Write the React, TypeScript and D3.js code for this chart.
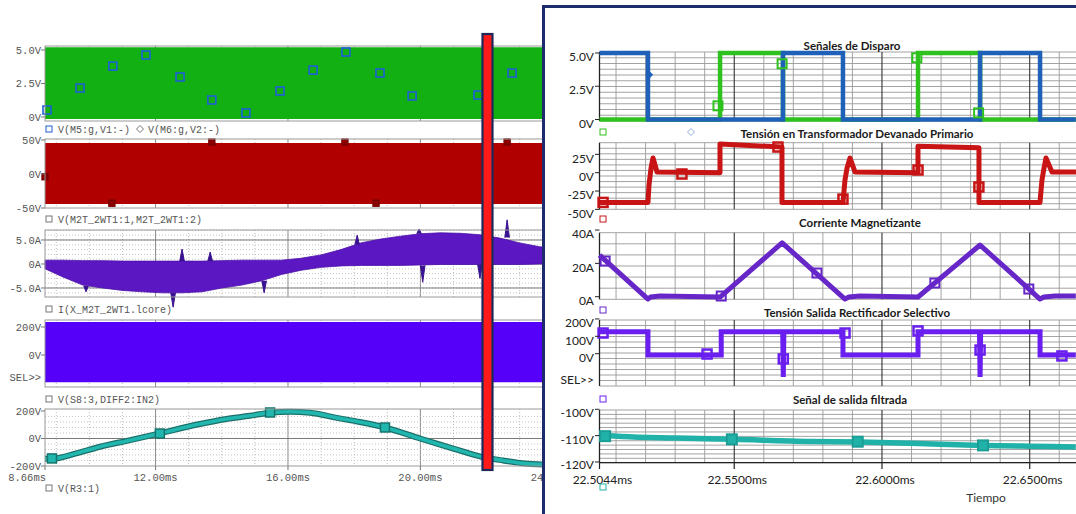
import React from "react";
import * as d3 from "d3";

// ================= LEFT: overview (PSpice) =================
const overviewTicks = [8.66, 12, 16, 20, 24];
const overviewTickLabels = ["8.66ms", "12.00ms", "16.00ms", "20.00ms", "24.00ms"];

// gate signals (dense square wave -> band) + markers
const gateBandT = [8.66, 24.5];
const gateBandLo = [-0.15, -0.15];
const gateBandHi = [5.2, 5.2];
const gateMarkT = [8.72, 9.72, 10.71, 11.71, 12.74, 13.7, 14.73, 15.76, 16.76, 17.75, 18.78, 19.75, 21.74, 22.77];
const gateMarkV = [0.52, 2.16, 3.8, 4.63, 2.99, 1.27, 0.3, 1.94, 3.5, 4.85, 3.28, 1.57, 1.64, 3.28];

// primary voltage band
const primBandT = [8.66, 24.5];
const primBandLo = [-44, -44];
const primBandHi = [45.6, 45.6];
const primMarkT = [8.66, 10.68, 13.7, 17.72, 18.66, 22.62];
const primMarkV = [-4, -43, 47, 47, -43, 47];

// magnetising current envelope
const coreT = [8.66, 9.2, 9.8, 10.4, 11.0, 11.6, 12.2, 12.8, 13.4, 14.0, 14.6, 15.2, 15.8, 16.4, 17.0, 17.6, 18.2, 18.8, 19.4, 20.0, 20.6, 21.2, 21.8, 22.4, 23.0, 23.6, 24.2];
const coreHi = [0.8, 0.8, 0.7, 0.7, 0.6, 0.6, 0.6, 0.6, 0.6, 0.7, 0.8, 0.8, 0.8, 1.2, 1.9, 3.0, 4.4, 5.2, 5.8, 6.3, 6.5, 6.4, 6.1, 5.4, 4.4, 3.6, 3.2];
const coreLo = [-1.0, -2.7, -4.4, -5.0, -5.5, -5.8, -6.0, -6.0, -5.8, -5.0, -4.4, -3.5, -2.2, -1.3, -0.7, -0.4, -0.3, -0.3, -0.3, -0.2, -0.1, -0.1, -0.1, -0.1, -0.1, 0, 0];
const coreSpikeT = [9.9, 12.53, 12.8, 13.65, 15.28, 18.09, 19.96, 20.07, 21.8, 22.62];
const coreSpikeBase = [-4.6, -6.0, 0.6, 0.6, -3.5, 4.0, 6.3, -0.3, -0.1, 5.5];
const coreSpikePeak = [-5.8, -9.0, 3.1, 2.5, -6.0, 6.0, 7.3, -3.8, -3.0, 9.2];

// selective rectifier output band
const selBandT = [8.66, 24.5];
const selBandLo = [-195, -195];
const selBandHi = [235, 235];

// output V(R3:1)
const outT = [8.66, 8.96, 9.57, 10.32, 11.23, 12.0, 13.34, 14.1, 14.85, 15.46, 16.06, 16.67, 17.48, 18.17, 18.93, 19.99, 20.6, 20.99, 21.89, 22.5, 23.01, 23.77, 24.2];
const outV = [-148, -145, -110, -60, -12, 30, 105, 140, 165, 188, 195, 188, 150, 120, 80, 0, -45, -73, -135, -160, -178, -190, -192];
const outMarkT = [8.87, 12.13, 15.46, 18.93];
const outMarkV = [-145, 36, 189, 80];

// ================= RIGHT: zoomed window =================
const zoomTicks = [22.5044, 22.55, 22.6, 22.65];
const zoomTickLabels = ["22.5044ms", "22.5500ms", "22.6000ms", "22.6500ms"];

// Señales de Disparo (step after)
const blueT = [22.5044, 22.5208, 22.5665, 22.5868, 22.6332, 22.6535, 22.6656];
const blueV = [5, 0, 5, 0, 5, 0, 0];
const greenT = [22.5044, 22.5452, 22.5665, 22.6122, 22.6332, 22.6656];
const greenV = [0, 5, 0, 5, 0, 0];
const greenMarkT = [22.5445, 22.5662, 22.6118, 22.6327];
const greenMarkV = [1.03, 4.19, 4.64, 0.5];
const blueMarkT = [22.5212];
const blueMarkV = [3.36];

// Tensión en Transformador Devanado Primario
const primT = [22.5044, 22.52081, 22.52115, 22.52183, 22.52251, 22.52386, 22.54518, 22.54518, 22.56616, 22.56616, 22.58681, 22.58748, 22.58816, 22.58918, 22.59087, 22.61219, 22.61219, 22.63283, 22.63283, 22.65348, 22.65415, 22.65483, 22.65551, 22.65754, 22.66566];
const primV = [-40.5, -40.5, -17, 6, 20, 1, 0, 39, 35, -40.5, -40.5, -10, 6, 20, 1, 0, 36, 34, -40.5, -40.5, -10, 6, 20, 1, 1];
const primZMarkT = [22.5056, 22.5323, 22.5648, 22.5868, 22.6122, 22.6328];
const primZMarkV = [-40.5, -1.8, 35, -36, 3.7, -19.5];

// Corriente Magnetizante
const magT = [22.5044, 22.52081, 22.5217, 22.5249, 22.5452, 22.5662, 22.58748, 22.5888, 22.5925, 22.6122, 22.6332, 22.65348, 22.6548, 22.6585, 22.6656];
const magV = [25, -1.4, -0.2, 0.4, -0.2, 32.3, -1.4, -0.2, 0.4, -0.2, 31, -1.4, -0.2, 0.4, 0.4];
const magMarkT = [22.5063, 22.5456, 22.5780, 22.6179, 22.6497];
const magMarkV = [21.4, 0.4, 14.2, 8.2, 4.6];

// Tensión Salida Rectificador Selectivo
const selT = [22.5044, 22.5208, 22.5208, 22.5456, 22.5456, 22.5664, 22.5666, 22.5668, 22.5868, 22.5868, 22.6122, 22.6122, 22.6330, 22.6332, 22.6334, 22.6535, 22.6535, 22.6656];
const selV = [127, 127, -7, -7, 127, 127, -134, 127, 127, -7, -7, 127, 127, -134, 127, 127, -7, -7];
const selMarkT = [22.5056, 22.5408, 22.5666, 22.5875, 22.6122, 22.6332, 22.6609];
const selMarkV = [119, -2, -30, 119, 131, 21, -13];

// Señal de salida filtrada
const filtT = [22.5044, 22.5120, 22.5300, 22.5492, 22.5756, 22.5925, 22.6100, 22.6342, 22.6500, 22.6656];
const filtV = [-109.8, -110.3, -110.9, -111.4, -112.2, -112.4, -112.9, -113.7, -114.0, -114.3];
const filtMarkT = [22.5063, 22.5492, 22.5918, 22.6342];
const filtMarkV = [-110.2, -111.4, -112.3, -113.7];

const pts = (t: number[], v: number[]) => t.map((d, i) => [d, v[i]] as [number, number]);

const FL = "'Liberation Mono', 'DejaVu Sans Mono', monospace";
const FR = "Lato, 'Open Sans', sans-serif";

export default function App() {
  const xL = d3.scaleLinear().domain([8.66, 24]).range([45, 552.8]);
  const xR = d3.scaleLinear().domain([22.5044, 22.6656]).range([599.5, 1075.8]);

  // left y scales
  const yL1 = d3.scaleLinear().domain([-0.3, 5.3]).range([121, 46]);
  const yL2 = d3.scaleLinear().domain([-50, 51.5]).range([208, 139]);
  const yL3 = d3.scaleLinear().domain([-6.875, 7.083]).range([297, 230]);
  const yL4 = d3.scaleLinear().domain([-228.6, 250]).range([387, 320]);
  const yL5 = d3.scaleLinear().domain([-200, 214.5]).range([466, 409]);

  // right y scales
  const yR1 = d3.scaleLinear().domain([-0.113, 5.075]).range([121, 52]);
  const yR2 = d3.scaleLinear().domain([-49.9, 40.9]).range([209.3, 142.7]);
  const yR3 = d3.scaleLinear().domain([-1.56, 38.4]).range([299.3, 232.7]);
  const yR4 = d3.scaleLinear().domain([-186, 194]).range([386, 320]);
  const yR5 = d3.scaleLinear().domain([-120.27, -100.27]).range([462.7, 410]);

  const bandPath = (t: number[], lo: number[], hi: number[], y: d3.ScaleLinear<number, number>) =>
    d3.area<number>().x((_, i) => xL(t[i])).y0((_, i) => y(lo[i])).y1((_, i) => y(hi[i]))(t) || "";

  const lineL = (t: number[], v: number[], y: d3.ScaleLinear<number, number>, curve = d3.curveLinear) =>
    d3.line<[number, number]>().x((d) => xL(d[0])).y((d) => y(d[1])).curve(curve)(pts(t, v)) || "";
  const lineR = (t: number[], v: number[], y: d3.ScaleLinear<number, number>, curve = d3.curveLinear) =>
    d3.line<[number, number]>().x((d) => xR(d[0])).y((d) => y(d[1])).curve(curve)(pts(t, v)) || "";

  const leftFrames = [yL1, yL2, yL3, yL4, yL5];

  const leftGrid = (y: d3.ScaleLinear<number, number>, minor: number[], major: number[]) => {
    const [b, t] = y.range();
    return (
      <g>
        {d3.range(9, 24.5, 1).map((m) => (
          <line key={"v" + m} x1={xL(m)} x2={xL(m)} y1={t} y2={b} stroke={[12, 16, 20, 24].includes(m) ? "#8a8a8a" : "#bdbdbd"} strokeWidth={1} strokeDasharray={[12, 16, 20, 24].includes(m) ? undefined : "1,2"} />
        ))}
        {minor.map((v) => (
          <line key={"h" + v} x1={45} x2={560} y1={y(v)} y2={y(v)} stroke="#b5b5b5" strokeWidth={0.8} strokeDasharray="1,2" />
        ))}
        {major.map((v) => (
          <line key={"H" + v} x1={45} x2={560} y1={y(v)} y2={y(v)} stroke="#7a7a7a" strokeWidth={1} />
        ))}
      </g>
    );
  };

  const leftYLabels = (y: d3.ScaleLinear<number, number>, vals: number[], labels: string[]) =>
    vals.map((v, i) => (
      <g key={i}>
        <line x1={41} x2={45} y1={y(v)} y2={y(v)} stroke="#777" />
        <text x={41} y={y(v)} dy="0.35em" textAnchor="end" fontFamily={FL} fontSize={10.5} fill="#555">{labels[i]}</text>
      </g>
    ));

  const leftLegend = (yy: number, label: string, color: string) => (
    <g>
      <rect x={46} y={yy - 3} width={6} height={6} fill="none" stroke={color} strokeWidth={1} />
      <text x={58} y={yy} dy="0.35em" fontFamily={FL} fontSize={10} fill="#555">{label}</text>
    </g>
  );

  // ---- right helpers ----
  const rightGrid = (y: d3.ScaleLinear<number, number>, n: number) => {
    const [b, t] = y.range();
    const rows = d3.range(0, n + 1).map((i) => t + ((b - t) * i) / n);
    return (
      <g>
        {rows.map((yy, i) => (
          <line key={"h" + i} x1={599.5} x2={1076} y1={yy} y2={yy} stroke="#8c8c8c" strokeWidth={0.8} />
        ))}
        {d3.range(22.51, 22.666, 0.01).map((m, i) => {
          const major = [22.55, 22.6, 22.65].some((q) => Math.abs(q - m) < 1e-6);
          return <line key={"v" + i} x1={xR(m)} x2={xR(m)} y1={t} y2={b} stroke={major ? "#333" : "#9a9a9a"} strokeWidth={major ? 1.1 : 0.9} />;
        })}
        <line x1={599.5} x2={599.5} y1={t} y2={b} stroke="#222" strokeWidth={1.3} />
      </g>
    );
  };

  const rightYLabels = (y: d3.ScaleLinear<number, number>, vals: number[], labels: string[]) =>
    vals.map((v, i) => (
      <g key={i}>
        <line x1={595} x2={599.5} y1={y(v)} y2={y(v)} stroke="#222" strokeWidth={1} />
        <text x={594} y={y(v) + 4} dy="0.35em" textAnchor="end" fontFamily={FR} fontSize={12} fill="#222">{labels[i]}</text>
      </g>
    ));

  const squares = (t: number[], v: number[], x: d3.ScaleLinear<number, number>, y: d3.ScaleLinear<number, number>, color: string, size: number, sw: number, fill = "none") =>
    t.map((d, i) => (
      <rect key={i} x={x(d) - size / 2} y={y(v[i]) - size / 2} width={size} height={size} fill={fill} stroke={color} strokeWidth={sw} />
    ));

  const title = (cx: number, yy: number, s: string) => (
    <text x={cx} y={yy} dy="0.35em" textAnchor="middle" fontFamily={FR} fontWeight={700} fontSize={11.5} fill="#1a1a1a">{s}</text>
  );

  return (
    <svg width={1076} height={514} style={{ position: "absolute", left: 0, top: 0, background: "#fff" }}>
      <rect x={0} y={0} width={1076} height={514} fill="#fff" />

      {/* ======== LEFT ======== */}
      {leftGrid(yL1, [], [0])}
      {leftGrid(yL2, [], [0])}
      {leftGrid(yL3, d3.range(-6, 7.01, 1), [-5, 0, 5])}
      {leftGrid(yL4, [], [0])}
      {leftGrid(yL5, d3.range(-160, 200, 40), [0])}

      {/* L1 gate band */}
      <path d={bandPath(gateBandT, gateBandLo, gateBandHi, yL1)} fill="#12b012" />
      {squares(gateMarkT, gateMarkV, xL, yL1, "#1f5fd6", 8, 1.6)}

      {/* L2 primary band */}
      <path d={bandPath(primBandT, primBandLo, primBandHi, yL2)} fill="#b00000" />
      {squares(primMarkT, primMarkV, xL, yL2, "#7a0000", 6, 1.4, "#8a0000")}

      {/* L3 magnetising current */}
      <path d={bandPath(coreT, coreLo, coreHi, yL3)} fill="#5a17c2" stroke="#4a10a8" strokeWidth={0.8} />
      {coreSpikeT.map((t, i) => (
        <path key={i} d={d3.line<[number, number]>().x((d) => xL(d[0])).y((d) => yL3(d[1]))([[t - 0.07, coreSpikeBase[i]], [t, coreSpikePeak[i]], [t + 0.07, coreSpikeBase[i]]]) || ""} fill="#3a1290" stroke="#3a1290" strokeWidth={1} />
      ))}

      {/* L4 selective rectifier band */}
      <path d={bandPath(selBandT, selBandLo, selBandHi, yL4)} fill="#5500f8" />

      {/* L5 output */}
      <path d={lineL(outT, outV, yL5, d3.curveMonotoneX)} fill="none" stroke="#1b6f6a" strokeWidth={6} />
      <path d={lineL(outT, outV, yL5, d3.curveMonotoneX)} fill="none" stroke="#22b7ae" strokeWidth={3.6} />
      {squares(outMarkT, outMarkV, xL, yL5, "#16736d", 9, 1.5, "#22b7ae")}

      {/* frames */}
      {leftFrames.map((y, i) => {
        const [b, t] = y.range();
        return <rect key={i} x={45} y={t} width={520} height={b - t} fill="none" stroke="#9a9a9a" strokeWidth={1} />;
      })}

      {leftYLabels(yL1, [5, 2.5, 0], ["5.0V", "2.5V", "0V"])}
      {leftYLabels(yL2, [50, 0, -50], ["50V", "0V", "-50V"])}
      {leftYLabels(yL3, [5, 0, -5], ["5.0A", "0A", "-5.0A"])}
      {leftYLabels(yL4, [200, 0], ["200V", "0V"])}
      <text x={41} y={377} dy="0.35em" textAnchor="end" fontFamily={FL} fontSize={10.5} fill="#555">SEL&gt;&gt;</text>
      {leftYLabels(yL5, [200, 0, -200], ["200V", "0V", "-200V"])}

      {overviewTicks.map((t, i) => (
        <g key={i}>
          <line x1={xL(t)} x2={xL(t)} y1={466} y2={470} stroke="#777" />
          <text x={i === 0 ? 46 : xL(t)} y={477} dy="0.35em" textAnchor={i === 0 ? "end" : "middle"} fontFamily={FL} fontSize={10.5} fill="#555">{overviewTickLabels[i]}</text>
        </g>
      ))}

      {/* legends */}
      <g>
        <rect x={46} y={126} width={6} height={6} fill="none" stroke="#1f5fd6" strokeWidth={1} />
        <text x={58} y={129} dy="0.35em" fontFamily={FL} fontSize={10} fill="#555">V(M5:g,V1:-)</text>
        <path d="M140,125.5 L143.5,129 L140,132.5 L136.5,129 Z" fill="none" stroke="#777" strokeWidth={1} />
        <text x={148} y={129} dy="0.35em" fontFamily={FL} fontSize={10} fill="#555">V(M6:g,V2:-)</text>
      </g>
      {leftLegend(219, "V(M2T_2WT1:1,M2T_2WT1:2)", "#777")}
      {leftLegend(309, "I(X_M2T_2WT1.lcore)", "#777")}
      {leftLegend(399, "V(S8:3,DIFF2:IN2)", "#777")}
      {leftLegend(488, "V(R3:1)", "#777")}

      {/* red cursor bar */}
      <rect x={482.5} y={34} width={10} height={436} fill="#ff1a1a" stroke="#1c2a5a" strokeWidth={2.2} />

      {/* ======== RIGHT ======== */}
      <rect x={543.5} y={6.5} width={540} height={520} fill="#fff" stroke="#1d2d6b" strokeWidth={3} />

      {rightGrid(yR1, 12)}
      {rightGrid(yR2, 12)}
      {rightGrid(yR3, 6)}
      {rightGrid(yR4, 12)}
      {rightGrid(yR5, 12)}

      {/* R1 */}
      <path d={lineR(greenT, greenV, yR1, d3.curveStepAfter)} fill="none" stroke="#2fc21f" strokeWidth={4.5} />
      <path d={lineR(blueT, blueV, yR1, d3.curveStepAfter)} fill="none" stroke="#1f60b8" strokeWidth={4.5} />
      {squares(greenMarkT, greenMarkV, xR, yR1, "#2fc21f", 9, 2)}
      {blueMarkT.map((t, i) => (
        <path key={i} d={`M${xR(t)},${yR1(blueMarkV[i]) - 4} l4,4 l-4,4 l-4,-4 Z`} fill="#1f60b8" />
      ))}

      {/* R2 */}
      <path d={lineR(primT, primV, yR2)} fill="none" stroke="#c81414" strokeWidth={5} strokeLinejoin="round" />
      {squares(primZMarkT, primZMarkV, xR, yR2, "#c81414", 9, 2.5)}

      {/* R3 */}
      <path d={lineR(magT, magV, yR3)} fill="none" stroke="#6626c8" strokeWidth={5} strokeLinejoin="round" />
      {squares(magMarkT, magMarkV, xR, yR3, "#6626c8", 9, 2)}

      {/* R4 */}
      <path d={lineR(selT, selV, yR4)} fill="none" stroke="#6a1ff0" strokeWidth={5} />
      {squares(selMarkT, selMarkV, xR, yR4, "#6a1ff0", 9, 2.5)}

      {/* R5 */}
      <path d={lineR(filtT, filtV, yR5, d3.curveMonotoneX)} fill="none" stroke="#20b2a8" strokeWidth={5.5} />
      {squares(filtMarkT, filtMarkV, xR, yR5, "#1a9e95", 10, 2, "#20b2a8")}

      {/* right axes labels */}
      {rightYLabels(yR1, [5, 2.5, 0], ["5.0V", "2.5V", "0V"])}
      {rightYLabels(yR2, [25, 0, -25, -50], ["25V", "0V", "-25V", "-50V"])}
      {rightYLabels(yR3, [40, 20, 0], ["40A", "20A", "0A"])}
      {rightYLabels(yR4, [200, 100, 0], ["200V", "100V", "0V"])}
      <text x={594} y={380} dy="0.35em" textAnchor="end" fontFamily={FR} fontSize={12} fill="#222">SEL&gt;&gt;</text>
      {rightYLabels(yR5, [-100, -110], ["-100V", "-110V"])}
      <line x1={595} x2={599.5} y1={yR5(-120)} y2={yR5(-120)} stroke="#222" strokeWidth={1} />
      <text x={594} y={yR5(-120) + 3} dy="0.35em" textAnchor="end" fontFamily={FR} fontSize={12} fill="#222">-120V</text>

      <line x1={599.5} x2={1076} y1={462.7} y2={462.7} stroke="#222" strokeWidth={1.3} />
      {zoomTicks.map((t, i) => (
        <g key={i}>
          <line x1={xR(t)} x2={xR(t)} y1={462.7} y2={469} stroke="#222" strokeWidth={1.2} />
          <text x={xR(t) + 3} y={479.5} dy="0.35em" textAnchor="middle" fontFamily={FR} fontSize={12} fill="#222">{zoomTickLabels[i]}</text>
        </g>
      ))}
      <text x={986} y={498} dy="0.35em" textAnchor="middle" fontFamily={FR} fontSize={12} fill="#333">Tiempo</text>

      {title(852, 46, "Señales de Disparo")}
      {title(857, 134, "Tensión en Transformador Devanado Primario")}
      {title(860, 223, "Corriente Magnetizante")}
      {title(857, 313, "Tensión Salida Rectificador Selectivo")}
      {title(850, 400, "Señal de salida filtrada")}

      {/* right legend symbols */}
      <rect x={600} y={129} width={6} height={6} fill="none" stroke="#2fc21f" strokeWidth={1} />
      <path d="M691,128.5 L694.5,132 L691,135.5 L687.5,132 Z" fill="none" stroke="#8fb0d8" strokeWidth={1} />
      <rect x={600} y={216} width={6} height={6} fill="none" stroke="#c81414" strokeWidth={1} />
      <rect x={600} y={307} width={6} height={6} fill="none" stroke="#6626c8" strokeWidth={1} />
      <rect x={600} y={396} width={6} height={6} fill="none" stroke="#6a1ff0" strokeWidth={1} />
      <rect x={600} y={484} width={6} height={6} fill="none" stroke="#20b2a8" strokeWidth={1} />
    </svg>
  );
}
